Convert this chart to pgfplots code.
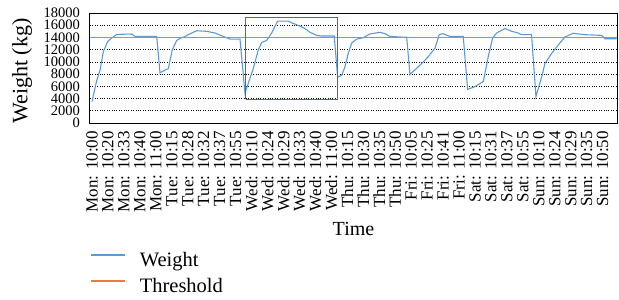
\documentclass[border=0pt]{standalone}
\usepackage{pgfplots}
\pgfplotsset{compat=1.18}
\usepackage{fontspec}
\setmainfont{Liberation Serif}
\definecolor{wblue}{RGB}{91,155,213}
\definecolor{torange}{RGB}{237,125,49}
\definecolor{boxred}{RGB}{232,48,48}
\begin{document}
\begin{tikzpicture}
\useasboundingbox (-90pt,-177pt) rectangle (529pt,123pt);
\begin{axis}[
 at={(0pt,0pt)}, anchor=south west,
 scale only axis, width=527pt, height=110pt,
 xmin=-0.25, xmax=65.8, ymin=0, ymax=18000,
 ytick={0,2000,...,18000},
 scaled y ticks=false,
 xtick={0,2,...,64},
 xticklabels={Mon: 10:00,Mon: 10:20,Mon: 10:33,Mon: 10:40,Mon: 11:00,Tue: 10:15,Tue: 10:28,Tue: 10:32,Tue: 10:37,Tue: 10:55,Wed: 10:10,Wed: 10:24,Wed: 10:29,Wed: 10:33,Wed: 10:40,Wed: 11:00,Thu: 10:15,Thu: 10:30,Thu: 10:35,Thu: 10:50,Fri: 10:05,Fri: 10:25,Fri: 10:41,Fri: 11:00,Sat: 10:15,Sat: 10:31,Sat: 10:37,Sat: 10:55,Sun: 10:10,Sun: 10:24,Sun: 10:29,Sun: 10:35,Sun: 10:50},
 x tick label style={yshift=-8pt, rotate=90, anchor=east, font=\fontsize{17}{17}\selectfont, inner sep=0pt},
 y tick label style={font=\fontsize{14.5}{14.5}\selectfont, inner sep=0pt, xshift=-10pt},
 /pgf/number format/assume math mode=true,
 /pgf/number format/1000 sep={},
 ymajorgrids, grid style={black, dotted, line width=0.7pt},
 major tick length=0pt,
 axis line style={black, line width=1pt},
 xlabel={Time}, ylabel={Weight (kg)},
 every axis x label/.style={at={(axis description cs:0.5,0)}, yshift=-112pt, anchor=base, inner sep=0pt, font=\fontsize{20}{20}\selectfont},
 every axis y label/.style={at={(axis description cs:0,0.5)}, xshift=-78pt, yshift=-3pt, rotate=90, anchor=north, inner sep=0pt, font=\fontsize{22}{22}\selectfont},
 legend style={at={(axis description cs:0,0)}, anchor=north west, yshift=-130pt, draw=none, inner sep=0pt, font=\fontsize{20.5}{20.5}\selectfont, row sep=8.5pt, column sep=14pt, nodes={inner sep=0pt, text height=13.6pt, text depth=4pt}},
 legend cell align=left,
 legend image code/.code={\draw[#1] (0pt,7pt) -- (34pt,7pt);},
]
\addplot[color=wblue, line width=1.1pt] coordinates {
(0,3500) (0.59,6950) (1.0,8600) (1.42,11670) (1.97,13340) (2.47,13900) (3.10,14500)
(4.97,14560) (5.39,14170) (8.11,14170) (8.52,8230) (9.56,8900) (10.06,11950)
(10.61,13500) (11.03,13840) (11.65,14170) (12.28,14600) (13.12,15100) (14.37,15000)
(15.41,14730) (16.45,14170) (17.29,13730) (18.55,13730) (19.17,4900) (20.21,8900)
(20.84,11950) (21.27,13200) (21.89,13500) (22.52,14730) (23.27,16680) (24.60,16680)
(25.23,16290) (26.07,15850) (26.69,15460) (27.32,14840) (28.16,14340) (28.78,14230)
(30.36,14230) (30.79,7500) (31.29,7800) (31.70,9170) (32.12,11400) (32.54,13070)
(33.17,13730) (34.00,13950) (34.84,14570) (36.09,14840) (36.72,14620) (37.34,14170)
(38.81,14060) (39.44,14060) (39.85,7950) (41.10,9450) (42.14,10840) (42.98,12230)
(43.52,14450) (43.95,14620) (44.86,14170) (46.53,14170) (47.08,5500) (48.00,5950)
(49.04,6780) (49.66,10840) (50.21,13900) (50.71,14730) (51.75,15460) (52.59,15010)
(53.42,14730) (53.84,14450) (55.09,14450) (55.64,4340) (56.35,7500) (56.77,9730)
(57.61,11400) (58.44,12790) (59.27,14060) (60.30,14680) (61.78,14450) (63.87,14340)
(64.29,13790) (65.75,13790)
};
\addlegendentry{Weight}
\addplot[color=torange, line width=1.6pt] coordinates {(-0.25,14000) (65.8,14000)};
\addlegendentry{Threshold}
\addplot[color=boxred, line width=1.3pt, forget plot] coordinates {(19.25,3900) (30.8,3900) (30.8,17250) (19.25,17250) (19.25,3900)};
\end{axis}
\end{tikzpicture}
\end{document}
